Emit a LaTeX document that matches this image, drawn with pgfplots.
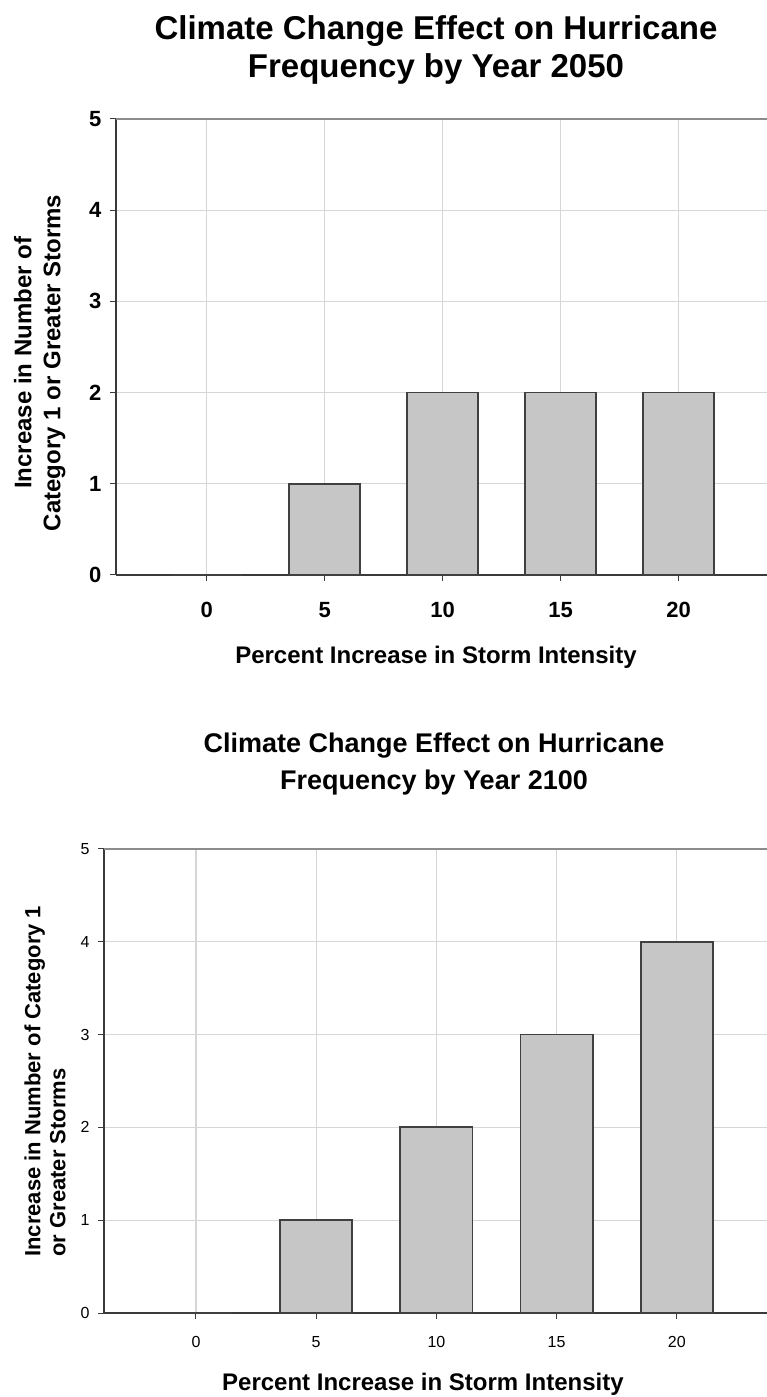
\documentclass[border=0pt]{standalone}
\usepackage{pgfplots}
\pgfplotsset{compat=1.18}
\usepackage{pgfplotstable}
\usepackage{fontspec}
\setmainfont{Liberation Sans}
\definecolor{barfill}{HTML}{C6C6C6}
\definecolor{baredge}{HTML}{404040}
\definecolor{gridc}{HTML}{D6D6D6}
\definecolor{axc}{HTML}{3A3A3A}
\definecolor{topc}{HTML}{8C8C8C}

\pgfplotstableread{
x y
0 0
1 1
2 2
3 2
4 2
}\dataA
\pgfplotstableread{
x y
0 0
1 1
2 2
3 3
4 4
}\dataB

\begin{document}
\begin{tikzpicture}
\useasboundingbox (0bp,0bp) rectangle (767bp,1397bp);
% titles
\node[anchor=base, inner sep=0pt, font=\fontsize{33bp}{39bp}\selectfont\bfseries] at (436bp,1357bp) {Climate Change Effect on Hurricane};
\node[anchor=base, inner sep=0pt, font=\fontsize{33bp}{39bp}\selectfont\bfseries] at (436bp,1319bp) {Frequency by Year 2050};
\node[anchor=base, inner sep=0pt, font=\fontsize{27bp}{32bp}\selectfont\bfseries] at (434bp,644bp) {Climate Change Effect on Hurricane};
\node[anchor=base, inner sep=0pt, font=\fontsize{27bp}{32bp}\selectfont\bfseries] at (434bp,607bp) {Frequency by Year 2100};

\begin{axis}[
  at={(116bp,822bp)}, anchor=south west,
  scale only axis, width=651bp, height=456bp,
  xmin=-0.77, xmax=4.75, ymin=0, ymax=5,
  xtick={0,1,2,3,4}, xticklabels={0,5,10,15,20},
  ytick={0,1,2,3,4,5}, yticklabels={0,1,2,3,4,5},
  /pgf/number format/assume math mode=true,
  ybar, bar width=0.6,
  grid=major, major grid style={gridc, line width=1.2bp},
  axis x line*=bottom, axis y line*=left,
  axis line style={axc, line width=1.5bp, -},
  tick align=outside, major tick length=6bp,
  tick style={axc, line width=1bp},
  ticklabel style={font=\fontsize{22bp}{26bp}\selectfont\bfseries},
  xticklabel style={anchor=base, yshift=-37bp},
  yticklabel style={xshift=-5bp},
  xlabel={Percent Increase in Storm Intensity},
  xlabel style={at={(rel axis cs:0.4916,-0.195)}, anchor=base, inner sep=0pt,
    font=\fontsize{24bp}{28bp}\selectfont\bfseries},
  ylabel={Increase in Number of\\Category 1 or Greater Storms},
  ylabel style={at={(rel axis cs:-0.117,0.465)}, anchor=center, align=center, inner sep=0pt,
    font=\fontsize{24bp}{29bp}\selectfont\bfseries},
  clip=false,
]
\addplot[fill=barfill, draw=baredge, line width=1.8bp] table[x=x,y=y] {\dataA};
\draw[topc, line width=2bp] (rel axis cs:0,1) -- (rel axis cs:1,1);
\end{axis}

\begin{axis}[
  at={(104bp,84bp)}, anchor=south west,
  scale only axis, width=663bp, height=464bp,
  xmin=-0.765, xmax=4.75, ymin=0, ymax=5,
  xtick={0,1,2,3,4}, xticklabels={0,5,10,15,20},
  ytick={0,1,2,3,4,5}, yticklabels={0,1,2,3,4,5},
  /pgf/number format/assume math mode=true,
  ybar, bar width=0.6,
  grid=major, major grid style={gridc, line width=1.2bp},
  axis x line*=bottom, axis y line*=left,
  axis line style={axc, line width=1.5bp, -},
  tick align=outside, major tick length=6bp,
  tick style={axc, line width=1bp},
  ticklabel style={font=\fontsize{16bp}{19bp}\selectfont},
  xticklabel style={anchor=base, yshift=-28bp},
  yticklabel style={xshift=-5bp},
  xlabel={Percent Increase in Storm Intensity},
  xlabel style={at={(rel axis cs:0.481,-0.166)}, anchor=base, inner sep=0pt,
    font=\fontsize{24bp}{28bp}\selectfont\bfseries},
  ylabel={Increase in Number of Category 1\\or Greater Storms},
  ylabel style={at={(rel axis cs:-0.089,0.121)}, anchor=west, align=left, inner sep=0pt,
    font=\fontsize{22bp}{25bp}\selectfont\bfseries},
  clip=false,
]
\addplot[fill=barfill, draw=baredge, line width=1.8bp] table[x=x,y=y] {\dataB};
\draw[topc, line width=2bp] (rel axis cs:0,1) -- (rel axis cs:1,1);
\end{axis}
\end{tikzpicture}
\end{document}
